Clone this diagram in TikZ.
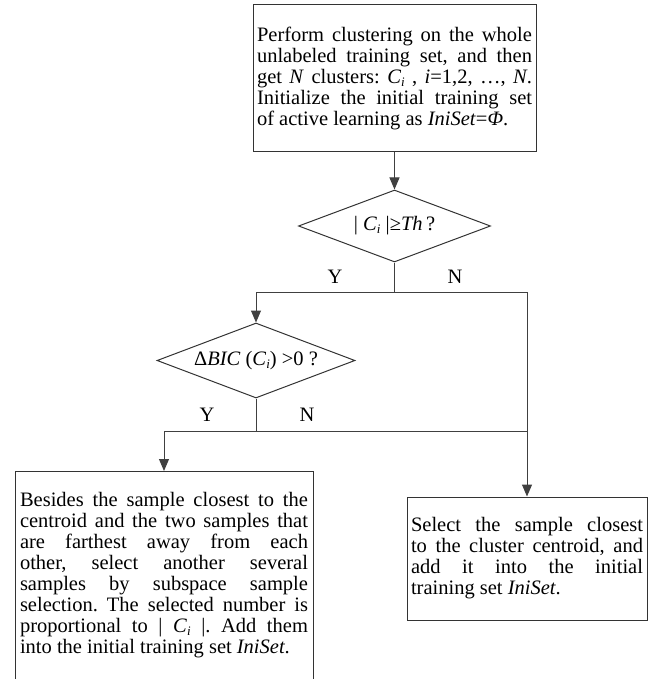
\documentclass[tikz,border=0pt]{standalone}
\usepackage{fontspec}
\setmainfont{Liberation Serif}
\usetikzlibrary{shapes.geometric}
\usetikzlibrary{arrows.meta}
\hyphenpenalty=10000
\hbadness=10000
\frenchspacing
\newcommand{\clusterC}{\textit{C}\raisebox{-0.15em}{\fontsize{13}{13}\selectfont\textit{i}}}

\begin{document}
\begin{tikzpicture}[x=1pt, y=1pt,
	every node/.style={font=\fontsize{20.5}{21}\selectfont},
	procbox/.style={draw=black!80, line width=1pt, rectangle, align=justify, inner xsep=4pt},
	decision/.style={draw=black!80, line width=1pt, diamond, aspect=2.6, inner sep=0pt},
	flow/.style={draw=black!75, line width=1pt},
	flowarrow/.style={flow, -{Triangle[length=12pt, width=10pt]}}]
	\useasboundingbox (0,0) rectangle (656,-679);
	\clip (0,0) rectangle (656,-679);

	\node[procbox, text width=275pt, minimum height=147pt] (init) at (394.5,-78.5)
		{Perform clustering on the whole\linebreak unlabeled training set, and then\linebreak
		 get \textit{N} clusters: \clusterC\ , \textit{i}=1,2, …, \textit{N}.\linebreak
		 Initialize the initial training set\linebreak of active learning as \textit{IniSet}=\textit{Φ}.};
	\node[decision, minimum width=192pt, minimum height=72pt] (sizetest) at (394.5,-226)
		{| \clusterC\ |≥\textit{Th}\,?};
	\node[decision, minimum width=198pt, minimum height=75pt] (bictest) at (256,-360.5)
		{Δ\textit{BIC} (\clusterC) >0 ?};
	\node[procbox, text width=288pt, inner xsep=5pt, inner ysep=21pt, text depth=250pt, anchor=north] (multi) at (164,-471)
		{Besides the sample closest to the\linebreak centroid and the two samples that\linebreak
		 are farthest away from each\linebreak other, select another several\linebreak
		 samples by subspace sample\linebreak selection. The selected number is\linebreak
		 proportional to | \clusterC\ |. Add them\linebreak
		 into the initial training set \textit{IniSet}.};
	\node[procbox, text width=232pt, minimum height=123pt] (single) at (527,-558.5)
		{Select the sample closest\linebreak to the cluster centroid, and\linebreak
		 add it into the initial\linebreak training set \textit{IniSet}.};

	\node (ysize) at (335,-277) {Y};
	\node (nsize) at (455,-277) {N};
	\node (ybic) at (207,-415) {Y};
	\node (nbic) at (307,-415) {N};

	\coordinate (splitsize) at (394.5,-292);
	\coordinate (splitbic) at (256,-431);
	\coordinate (joinbic) at (single.north |- splitbic);

	\draw[flowarrow] (init) -- (sizetest);
	\draw[flow] (sizetest) -- (splitsize);
	\draw[flowarrow] (splitsize) -| (bictest);
	\draw[flowarrow] (splitsize) -| (single);
	\draw[flow] (bictest) -- (splitbic);
	\draw[flowarrow] (splitbic) -| (multi);
	\draw[flow] (splitbic) -- (joinbic);
\end{tikzpicture}
\end{document}
